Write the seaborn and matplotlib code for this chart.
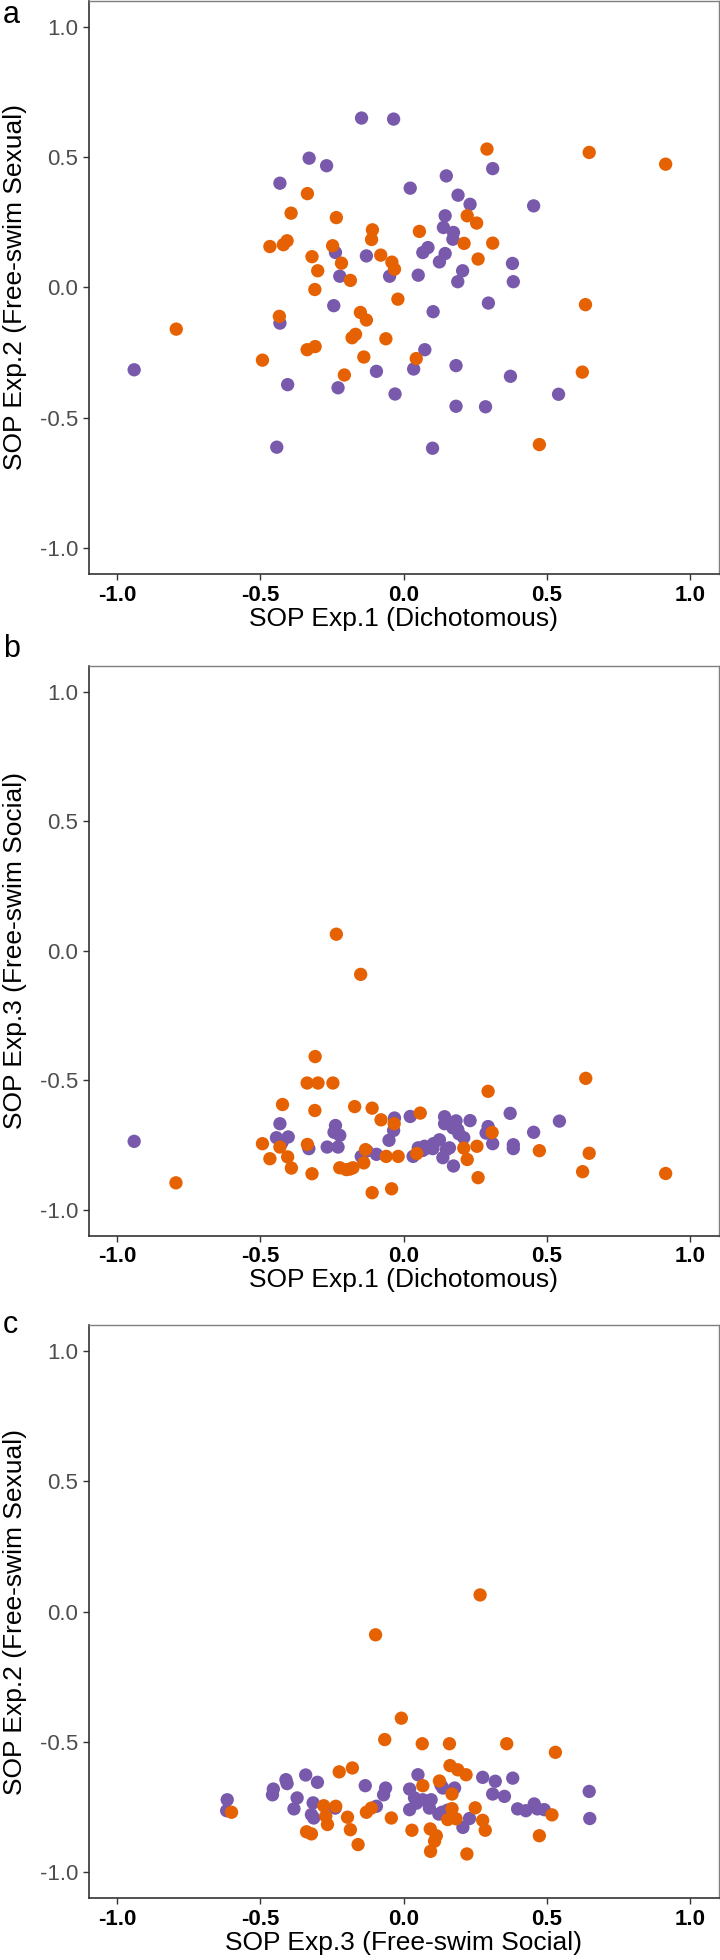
import pandas as pd
import matplotlib
matplotlib.use('Agg')
import matplotlib.pyplot as plt
import seaborn as sns

# estilo
sns.set_style('white')
plt.rcParams['font.family'] = ['Liberation Sans', 'DejaVu Sans']
plt.rcParams['axes.unicode_minus'] = False

PURPLE = '#7859AB'
ORANGE = '#E66101'

# ---- datos ----
# panel a: SOP Exp.1 vs SOP Exp.2
a_purple_x = [-0.330, -0.269, -0.432, 0.023, 0.149, 0.311, 0.190, 0.232, 0.454, 0.145, 0.139, 0.174,
              0.172, 0.085, 0.067, 0.145, 0.125, 0.206, 0.189, 0.380, 0.383, 0.051, -0.049, -0.130,
              -0.238, -0.223, -0.244, 0.103, 0.296, -0.432, 0.074, 0.035, -0.095, 0.183, 0.373, -0.405,
              -0.229, -0.030, 0.183, 0.286, 0.541, -0.147, -0.035, -0.941, -0.443, 0.101]
a_purple_y = [0.496, 0.467, 0.400, 0.381, 0.428, 0.456, 0.354, 0.319, 0.313, 0.275, 0.230, 0.211,
              0.185, 0.153, 0.134, 0.130, 0.098, 0.064, 0.022, 0.092, 0.022, 0.047, 0.043, 0.121,
              0.134, 0.043, -0.070, -0.093, -0.060, -0.137, -0.239, -0.313, -0.322, -0.300, -0.341, -0.373,
              -0.385, -0.409, -0.456, -0.458, -0.410, 0.650, 0.646, -0.316, -0.613, -0.617]
a_orange_x = [0.291, -0.336, -0.393, -0.235, -0.467, -0.420, -0.407, -0.109, -0.112, 0.055, 0.222,
              0.255, 0.211, 0.311, 0.260, -0.248, -0.320, -0.217, -0.300, -0.186, -0.310, -0.080,
              -0.041, -0.032, -0.020, -0.434, -0.151, -0.130, -0.180, -0.168, -0.062, -0.337, -0.309,
              -0.493, -0.139, 0.044, -0.207, 0.648, 0.915, -0.794, 0.635, 0.624, 0.474]
a_orange_y = [0.531, 0.360, 0.285, 0.268, 0.157, 0.164, 0.179, 0.221, 0.184, 0.215, 0.275,
              0.247, 0.169, 0.170, 0.109, 0.160, 0.118, 0.093, 0.064, 0.027, -0.008, 0.124,
              0.097, 0.070, -0.045, -0.111, -0.096, -0.125, -0.193, -0.180, -0.197, -0.239, -0.227,
              -0.279, -0.267, -0.273, -0.336, 0.518, 0.473, -0.160, -0.066, -0.325, -0.603]

# panel b: SOP Exp.1 vs SOP Exp.3
b_purple_x = [-0.941, -0.444, -0.432, -0.425, -0.403, -0.331, -0.267, -0.243, -0.238, -0.229, -0.223,
              -0.148, -0.128, -0.095, -0.051, -0.035, -0.032, 0.023, 0.033, 0.051, 0.067, 0.073,
              0.085, 0.102, 0.104, 0.125, 0.137, 0.143, 0.143, 0.149, 0.172, 0.174, 0.183, 0.193,
              0.210, 0.232, 0.288, 0.295, 0.311, 0.372, 0.383, 0.383, 0.454, 0.544, 0.189, 0.160]
b_purple_y = [-0.735, -0.721, -0.667, -0.740, -0.718, -0.763, -0.757, -0.700, -0.674, -0.757, -0.712,
              -0.793, -0.772, -0.785, -0.731, -0.693, -0.645, -0.639, -0.793, -0.760, -0.770, -0.754,
              -0.760, -0.763, -0.744, -0.729, -0.798, -0.640, -0.667, -0.767, -0.683, -0.830, -0.656, -0.706,
              -0.721, -0.655, -0.703, -0.678, -0.744, -0.627, -0.748, -0.763, -0.700, -0.657, -0.690, -0.760]
b_orange_x = [-0.235, -0.150, -0.309, -0.337, -0.299, -0.247, -0.423, -0.310, -0.171, -0.110, -0.079,
              -0.033, 0.058, -0.493, -0.432, -0.467, -0.405, -0.392, -0.336, -0.320, -0.133, -0.139,
              -0.061, -0.019, 0.046, -0.223, -0.200, -0.177, -0.110, -0.042, 0.295, 0.636, 0.309,
              0.210, 0.256, 0.222, 0.260, 0.474, 0.648, 0.625, -0.795, 0.915, -0.188]
b_orange_y = [0.064, -0.091, -0.408, -0.510, -0.510, -0.510, -0.593, -0.616, -0.601, -0.607, -0.652,
              -0.667, -0.626, -0.744, -0.757, -0.802, -0.795, -0.838, -0.747, -0.860, -0.767, -0.818,
              -0.793, -0.793, -0.782, -0.837, -0.844, -0.837, -0.933, -0.918, -0.542, -0.492, -0.701,
              -0.761, -0.754, -0.805, -0.875, -0.771, -0.781, -0.852, -0.895, -0.859, -0.842]

# panel c: SOP Exp.3 vs SOP Exp.2 (tal como aparece rotulado)
c_purple_x = [-0.616, -0.618, -0.455, -0.458, -0.411, -0.407, -0.342, -0.301, -0.372, -0.383, -0.316,
              -0.322, -0.314, -0.134, -0.063, -0.070, -0.095, 0.050, 0.021, 0.137, 0.178, 0.038,
              0.067, 0.096, 0.021, 0.090, 0.123, 0.207, 0.230, 0.276, 0.320, 0.381, 0.311, 0.352,
              0.398, 0.427, 0.456, 0.491, 0.648, 0.650, 0.467, 0.153, 0.134, 0.130, 0.045, -0.239]
c_purple_y = [-0.722, -0.764, -0.681, -0.703, -0.645, -0.660, -0.627, -0.655, -0.715, -0.757, -0.734,
              -0.779, -0.792, -0.668, -0.677, -0.703, -0.747, -0.626, -0.681, -0.677, -0.677, -0.715,
              -0.722, -0.722, -0.760, -0.754, -0.777, -0.828, -0.794, -0.636, -0.651, -0.639, -0.700, -0.709,
              -0.757, -0.764, -0.738, -0.760, -0.690, -0.794, -0.757, -0.762, -0.770, -0.665, -0.735, -0.754]
c_orange_x = [0.267, -0.098, -0.008, -0.066, -0.225, -0.179, -0.601, -0.279, -0.237, -0.272, -0.266,
              -0.196, -0.186, -0.159, -0.339, -0.322, -0.130, -0.113, -0.043, 0.065, 0.160, 0.360,
              0.530, 0.162, 0.189, 0.218, 0.125, 0.067, 0.169, 0.250, 0.169, 0.154, 0.183, 0.276,
              0.285, 0.029, 0.093, 0.114, 0.108, 0.094, 0.221, 0.474, 0.518]
c_orange_y = [0.064, -0.089, -0.409, -0.491, -0.615, -0.600, -0.770, -0.745, -0.747, -0.785, -0.817,
              -0.789, -0.837, -0.894, -0.845, -0.853, -0.770, -0.754, -0.792, -0.507, -0.507, -0.507,
              -0.540, -0.591, -0.607, -0.626, -0.650, -0.668, -0.700, -0.753, -0.756, -0.798, -0.795, -0.801,
              -0.839, -0.839, -0.834, -0.860, -0.881, -0.920, -0.930, -0.860, -0.780]

ticks = [-1.0, -0.5, 0.0, 0.5, 1.0]
tick_labels = ['-1.0', '-0.5', '0.0', '0.5', '1.0']

label_exp1 = 'SOP Exp.1 (Dichotomous)'
label_exp2 = 'SOP Exp.2 (Free-swim Sexual)'
label_exp3 = 'SOP Exp.3 (Free-swim Social)'


def dibujar_panel(ax, px, py, ox, oy, xlabel, ylabel):
    df = pd.DataFrame({
        'x': px + ox,
        'y': py + oy,
        'grupo': ['g1'] * len(px) + ['g2'] * len(ox),
    })
    sns.scatterplot(data=df, x='x', y='y', hue='grupo',
                    palette={'g1': PURPLE, 'g2': ORANGE},
                    s=92, linewidth=0, legend=False, ax=ax, zorder=3)

    ax.set_xlim(-1.1, 1.1)
    ax.set_ylim(-1.1, 1.1)
    ax.set_xticks(ticks)
    ax.set_yticks(ticks)
    ax.set_xticklabels(tick_labels, fontsize=16, fontweight='bold', color='black')
    ax.set_yticklabels(tick_labels, fontsize=16, color='#4D4D4D')
    ax.tick_params(axis='both', direction='out', length=4, width=1, color='#333333',
                   bottom=True, left=True)
    ax.tick_params(axis='x', pad=3.5)
    ax.tick_params(axis='y', pad=3.5)

    ax.set_xlabel(xlabel, fontsize=19, color='black')
    ax.set_ylabel(ylabel, fontsize=19, color='black')
    ax.xaxis.set_label_coords(0.5, -0.057)
    ax.yaxis.set_label_coords(-0.098, 0.5)

    for lado in ['left', 'bottom']:
        ax.spines[lado].set_color('#333333')
        ax.spines[lado].set_linewidth(1.2)
    for lado in ['top', 'right']:
        ax.spines[lado].set_color('#7F7F7F')
        ax.spines[lado].set_linewidth(1.0)
    ax.grid(False)


fig = plt.figure(figsize=(7.2, 19.6), dpi=100)
fig.patch.set_facecolor('white')

izq, ancho, alto = 0.1231, 0.875, 0.2925
ax_a = fig.add_axes([izq, 0.7071, ancho, alto])
ax_b = fig.add_axes([izq, 0.3694, ancho, 0.2910])
ax_c = fig.add_axes([izq, 0.0315, ancho, alto])

dibujar_panel(ax_a, a_purple_x, a_purple_y, a_orange_x, a_orange_y, label_exp1, label_exp2)
dibujar_panel(ax_b, b_purple_x, b_purple_y, b_orange_x, b_orange_y, label_exp1, label_exp3)
dibujar_panel(ax_c, c_purple_x, c_purple_y, c_orange_x, c_orange_y, label_exp3, label_exp2)

# letras de panel
for letra, base in [('a', 23), ('b', 657), ('c', 1333)]:
    fig.text(0.004, 1 - base / 1960, letra, fontsize=22, color='black', va='baseline', ha='left')

fig.savefig('out.png', dpi=100, facecolor='white')
plt.close(fig)
